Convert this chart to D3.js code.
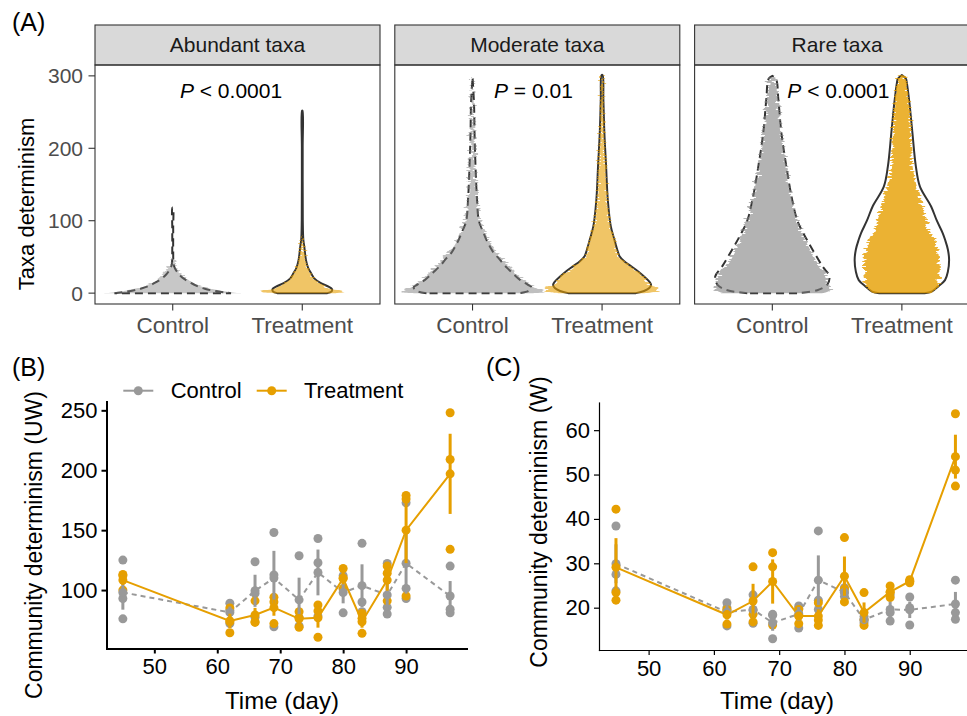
<!DOCTYPE html>
<html>
<head>
<meta charset="utf-8">
<script src="https://cdn.jsdelivr.net/npm/d3@7"></script>
<style>
  body { margin: 0; background: #fff; }
  svg { display: block; font-family: "Liberation Sans", Arial, Helvetica, sans-serif; }
</style>
</head>
<body>
<div id="container"></div>
<script>
// ---------- data: panel A (violins) ----------
const facets = ["Abundant taxa", "Moderate taxa", "Rare taxa"];
const groups = ["Control", "Treatment"];
const pSign = ["<", "=", "<"];
const pValue = ["0.0001", "0.01", "0.0001"];
const pLabelX = [1.45, 1.47, 1.51];
const pLabelY = 280;
const taxaTicks = [0, 100, 200, 300];

// [taxa determinism, relative half width of the violin]
const abundantCtrlViolin = [[0,1.0],[1,0.89],[3,0.72],[6,0.55],[10,0.41],[14,0.31],[20,0.19],[25,0.12],[30,0.07],[35,0.034],[40,0.015],[60,0.008],[90,0.008],[118,0.005]];
const abundantCtrlCloud  = [[0,1.17],[2,0.94],[5,0.72],[10,0.48],[15,0.34],[20,0.24],[30,0.12],[38,0.05],[45,0.026],[50,0]];
const abundantTrtViolin  = [[0,0.43],[2,0.50],[5.5,0.51],[9,0.45],[13.8,0.32],[20,0.21],[27.7,0.15],[35,0.10],[46,0.063],[64.5,0.034],[74,0.018],[100,0.009],[200,0.007],[252,0.004]];
const abundantTrtCloud   = [[0,0.51],[1.5,0.69],[3.5,0.65],[6,0.48],[10,0.39],[14,0.29],[20,0.20],[28,0.14],[46,0.057],[65,0.025],[80,0.005]];
const moderateCtrlViolin = [[0,0.79],[2,0.93],[5,0.99],[8,1.01],[12,0.94],[18,0.82],[25,0.72],[32,0.63],[40,0.53],[48,0.45],[56,0.36],[64,0.30],[75,0.23],[83,0.19],[99,0.11],[129,0.077],[175,0.051],[222,0.034],[260,0.026],[298,0]];
const moderateCtrlCloud  = [[0,1.03],[2,1.22],[6,1.13],[12,0.99],[20,0.86],[32,0.69],[48,0.50],[64,0.34],[83,0.22],[99,0.14],[129,0.086],[175,0.051],[222,0.034],[298,0.009]];
const moderateTrtViolin  = [[0,0.58],[3,0.72],[7,0.81],[11.5,0.84],[16,0.81],[23,0.72],[30,0.62],[37,0.50],[44,0.38],[51,0.30],[60,0.26],[74,0.21],[92,0.15],[129,0.098],[175,0.069],[222,0.039],[268,0.022],[301,0.009]];
const moderateTrtCloud   = [[0,0.77],[3,0.98],[8,0.94],[12,0.82],[23,0.70],[37,0.48],[51,0.29],[74,0.21],[92,0.146],[129,0.086],[175,0.06],[222,0.034],[301,0.017]];
const rareCtrlViolin     = [[0,0.43],[4,0.77],[11.5,0.94],[23,0.98],[37,0.86],[60,0.69],[83,0.53],[100,0.43],[129,0.34],[175,0.24],[222,0.154],[268,0.103],[296,0.063],[300,0]];
const rareCtrlCloud      = [[0,0.86],[5,0.99],[15,0.96],[25,0.91],[37,0.81],[60,0.65],[83,0.51],[129,0.34],[175,0.24],[222,0.154],[268,0.094],[298,0.051]];
const rareTrtViolin      = [[0,0.39],[2,0.51],[9,0.62],[18,0.74],[30,0.79],[46,0.81],[60,0.79],[74,0.74],[83,0.70],[100,0.60],[120,0.50],[147,0.31],[175,0.24],[222,0.18],[263,0.129],[290,0.086],[296,0.069],[301,0]];
const rareTrtCloud       = [[0,0.48],[5,0.60],[18,0.63],[37,0.65],[64,0.60],[86,0.48],[110,0.38],[132,0.31],[171,0.19],[240,0.146],[280,0.103],[301,0.051]];

// ---------- data: panels B and C (three replicates per day) ----------
const days = [45, 62, 66, 69, 73, 76, 80, 83, 87, 90, 97];
const ctrlUW = [[125,93,76],[89,83,72],[123.6,97.2,77.4],[148,112.6,69.4],[128.6,77,70],[143,122.8,78.3],[112,101,81],[139,90,82],[122.2,85.6,80],[172.8,101.4,93],[120,84,81]];
const trtUW  = [[113,112,100],[85,73.5,64.4],[91,73.6,73],[94,90,72],[82,77,69],[87.5,82.6,60.6],[118,110,101],[80.5,76.4,63.9],[120,114,91],[179,176,95],[248,209,134]];
const ctrlW  = [[38.4,27.5,23.8],[21.1,20,15.9],[22.9,19.4,16.5],[18.5,18.3,13],[20.4,19.9,15.4],[37.3,21.7,19.6],[24.5,23.4,22.5],[18,17.3,16.6],[22.9,18.9,17],[22.4,20,16.1],[26.2,18.9,17.4]];
const trtW   = [[42.2,23.4,21.7],[19.6,19.3,16.3],[29.2,18.5,16.8],[32.4,29.2,16.1],[19.6,18.3,16.4],[21.1,17.2,16],[35.8,24.2,21.3],[23.4,17.3,16],[24.9,23.5,22.3],[26.3,26,25.6],[63.7,51,47.4]];
const timeTicks = [50, 60, 70, 80, 90];
const uwTicks = [100, 150, 200, 250];
const wTicks = [20, 30, 40, 50, 60];

// ---------- styles ----------
const grey = "#999999", orange = "#E69F00";
const cloudFill = ["#808080", orange];
const cloudOpacity = [[0.44, 0.6], [0.5, 0.6], [0.6, 0.8]];

const W = 967, H = 716;
const svg = d3.create("svg").attr("width", W).attr("height", H).attr("viewBox", [0, 0, W, H]);
svg.append("rect").attr("width", W).attr("height", H).attr("fill", "#fff");

const defs = svg.append("defs");
const filt = defs.append("filter").attr("id", "streak")
  .attr("x", "-20%").attr("y", "-5%").attr("width", "140%").attr("height", "110%")
  .attr("color-interpolation-filters", "sRGB");
filt.append("feTurbulence").attr("type", "fractalNoise").attr("baseFrequency", "0.01 0.6")
  .attr("numOctaves", 2).attr("seed", 3).attr("result", "n");
filt.append("feColorMatrix").attr("in", "n").attr("type", "matrix")
  .attr("values", "1 0 0 0 0  0 0 0 0 0.5  0 0 0 0 0  0 0 0 0 1").attr("result", "m");
filt.append("feDisplacementMap").attr("in", "SourceGraphic").attr("in2", "m")
  .attr("scale", 12).attr("xChannelSelector", "R").attr("yChannelSelector", "G");

// ---------- panel A ----------
const violins = [
  [abundantCtrlViolin, abundantTrtViolin],
  [moderateCtrlViolin, moderateTrtViolin],
  [rareCtrlViolin, rareTrtViolin]
];
const clouds = [
  [abundantCtrlCloud, abundantTrtCloud],
  [moderateCtrlCloud, moderateTrtCloud],
  [rareCtrlCloud, rareTrtCloud]
];

const facetLeft = [95, 394.8, 694.6], facetW = 285;
const stripTop = 25, panelTop = 65, panelBottom = 304;
const yA = d3.scaleLinear().domain([-15, 315]).range([panelBottom, panelTop]);

facets.forEach((name, fi) => {
  const fx = facetLeft[fi];
  const x = d3.scalePoint().domain(groups).range([fx, fx + facetW]).padding(0.6);
  const maxHW = 0.45 * x.step();
  const g = svg.append("g");

  groups.forEach((grp, gi) => {
    const cx = x(grp);
    const prof = violins[fi][gi];
    const pts = prof.map(d => [cx - d[1] * maxHW, yA(d[0])])
      .concat(prof.slice().reverse().map(d => [cx + d[1] * maxHW, yA(d[0])]));
    g.append("path")
      .attr("d", d3.line().curve(d3.curveCatmullRom)(pts) + "Z")
      .attr("fill", "none")
      .attr("stroke", "#333")
      .attr("stroke-width", 2)
      .attr("stroke-dasharray", gi == 0 ? "8,5" : null);

    const area = d3.area().curve(d3.curveCatmullRom)
      .y(d => yA(d[0]))
      .x0(d => cx - d[1] * maxHW)
      .x1(d => cx + d[1] * maxHW);
    g.append("path")
      .attr("d", area(clouds[fi][gi]))
      .attr("fill", cloudFill[gi])
      .attr("fill-opacity", cloudOpacity[fi][gi])
      .attr("filter", "url(#streak)");
  });

  // P label, placed on the discrete axis (groups at 1 and 2)
  const pos = d3.scaleLinear().domain([1, 2]).range([x(groups[0]), x(groups[1])]);
  const t = g.append("text")
    .attr("x", pos(pLabelX[fi]))
    .attr("y", yA(pLabelY))
    .attr("dy", "0.35em")
    .attr("text-anchor", "middle")
    .attr("font-size", 21);
  t.append("tspan").attr("font-style", "italic").text("P");
  t.append("tspan").text(" " + pSign[fi] + " " + pValue[fi]);

  // strip and frame
  g.append("rect").attr("x", fx).attr("y", stripTop).attr("width", facetW).attr("height", panelTop - stripTop)
    .attr("fill", "#d9d9d9").attr("stroke", "#333").attr("stroke-width", 1.1);
  g.append("text").attr("x", fx + facetW / 2).attr("y", (stripTop + panelTop) / 2).attr("dy", "0.35em")
    .attr("text-anchor", "middle").attr("font-size", 21).attr("fill", "#1a1a1a").text(name);
  g.append("rect").attr("x", fx).attr("y", panelTop).attr("width", facetW).attr("height", panelBottom - panelTop)
    .attr("fill", "none").attr("stroke", "#333").attr("stroke-width", 1.1);

  // x ticks
  groups.forEach(grp => {
    g.append("line").attr("x1", x(grp)).attr("x2", x(grp)).attr("y1", panelBottom).attr("y2", panelBottom + 6.5)
      .attr("stroke", "#333").attr("stroke-width", 1.1);
    g.append("text").attr("x", x(grp)).attr("y", 333).attr("text-anchor", "middle")
      .attr("font-size", 22.5).attr("fill", "#4d4d4d").text(grp);
  });

  if (fi == 0) {
    taxaTicks.forEach(v => {
      g.append("line").attr("x1", fx - 6.5).attr("x2", fx).attr("y1", yA(v)).attr("y2", yA(v))
        .attr("stroke", "#333").attr("stroke-width", 1.1);
      g.append("text").attr("x", fx - 12).attr("y", yA(v)).attr("dy", "0.36em").attr("text-anchor", "end")
        .attr("font-size", 21).attr("fill", "#4d4d4d").text(v);
    });
  }
});

svg.append("text").attr("transform", "translate(26,204) rotate(-90)").attr("dy", "0.35em")
  .attr("text-anchor", "middle").attr("font-size", 22).text("Taxa determinism");

// ---------- panels B and C ----------
function summary(reps) {
  return reps.map((r, i) => {
    const m = d3.mean(r), se = d3.deviation(r) / Math.sqrt(r.length);
    return {day: days[i], mean: m, lo: m - se, hi: m + se};
  });
}

function timePanel(opt) {
  const xS = d3.scaleLinear().domain([42.4, 99.6]).range(opt.xRange);
  const all = opt.ctrl.flat().concat(opt.trt.flat());
  const [mn, mx] = d3.extent(all);
  const pad = (mx - mn) * 0.05;
  const yS = d3.scaleLinear().domain([mn - pad, mx + pad]).range(opt.yRange);
  const g = svg.append("g");

  const series = [
    {reps: opt.ctrl, color: grey, dash: "5,4"},
    {reps: opt.trt, color: orange, dash: null}
  ];

  // replicate points
  series.forEach(s => {
    g.append("g").selectAll("circle")
      .data(s.reps.flatMap((r, i) => r.map(v => ({day: days[i], v}))))
      .join("circle")
      .attr("cx", d => xS(d.day)).attr("cy", d => yS(d.v)).attr("r", 4.5)
      .attr("fill", s.color);
  });
  // mean lines
  series.forEach(s => {
    const sm = summary(s.reps);
    g.append("path")
      .attr("d", d3.line().x(d => xS(d.day)).y(d => yS(d.mean))(sm))
      .attr("fill", "none").attr("stroke", s.color).attr("stroke-width", 2)
      .attr("stroke-dasharray", s.dash);
  });
  // mean +- se
  series.forEach(s => {
    const sm = summary(s.reps);
    g.append("g").selectAll("line").data(sm).join("line")
      .attr("x1", d => xS(d.day)).attr("x2", d => xS(d.day))
      .attr("y1", d => yS(d.lo)).attr("y2", d => yS(d.hi))
      .attr("stroke", s.color).attr("stroke-width", 3);
    g.append("g").selectAll("circle").data(sm).join("circle")
      .attr("cx", d => xS(d.day)).attr("cy", d => yS(d.mean)).attr("r", 4.5)
      .attr("fill", s.color);
  });

  // axes
  const ax = g.append("g").attr("transform", `translate(0,${opt.yRange[0]})`)
    .call(d3.axisBottom(xS).tickValues(timeTicks).tickSize(5).tickPadding(5).tickSizeOuter(0));
  const ay = g.append("g").attr("transform", `translate(${opt.xRange[0]},0)`)
    .call(d3.axisLeft(yS).tickValues(opt.ticks).tickSize(5).tickPadding(4).tickSizeOuter(0));
  [ax, ay].forEach(a => {
    a.attr("font-family", null).attr("font-size", 22);
    a.select(".domain").attr("stroke", "#000").attr("stroke-width", opt.axisWidth).attr("stroke-linecap", "square");
    a.selectAll(".tick line").attr("stroke", "#000").attr("stroke-width", opt.axisWidth);
    a.selectAll(".tick text").attr("fill", "#000");
  });

  svg.append("text").attr("x", opt.xTitle[0]).attr("y", opt.xTitle[1]).attr("text-anchor", "middle")
    .attr("font-size", 24).text("Time (day)");
  svg.append("text").attr("transform", `translate(${opt.yTitle[0]},${opt.yTitle[1]}) rotate(-90)`)
    .attr("dy", "0.35em").attr("text-anchor", "middle").attr("font-size", 23).text(opt.yLabel);
}

timePanel({
  ctrl: ctrlUW, trt: trtUW, ticks: uwTicks,
  xRange: [106.5, 466.5], yRange: [648.5, 401.5], axisWidth: 2,
  xTitle: [282, 708.5], yTitle: [34, 545], yLabel: "Community determinism (UW)"
});
timePanel({
  ctrl: ctrlW, trt: trtW, ticks: wTicks,
  xRange: [599, 972.4], yRange: [650, 402.5], axisWidth: 1.2,
  xTitle: [777, 708.5], yTitle: [539, 522], yLabel: "Community determinism (W)"
});

// legend for B
const legend = svg.append("g");
[["Control", grey, 123.3, 170.7], ["Treatment", orange, 256.7, 304]].forEach(([lab, col, x0, tx]) => {
  legend.append("line").attr("x1", x0).attr("x2", x0 + 30).attr("y1", 390.7).attr("y2", 390.7)
    .attr("stroke", col).attr("stroke-width", 2);
  legend.append("circle").attr("cx", x0 + 15).attr("cy", 390.7).attr("r", 4.5).attr("fill", col);
  legend.append("text").attr("x", tx).attr("y", 390.7).attr("dy", "0.35em").attr("font-size", 22).text(lab);
});

// panel tags
[["(A)", 12, 31], ["(B)", 12, 376], ["(C)", 486, 376]].forEach(([t, x, y]) => {
  svg.append("text").attr("x", x).attr("y", y).attr("font-size", 25).text(t);
});

document.getElementById("container").appendChild(svg.node());
</script>
</body>
</html>
